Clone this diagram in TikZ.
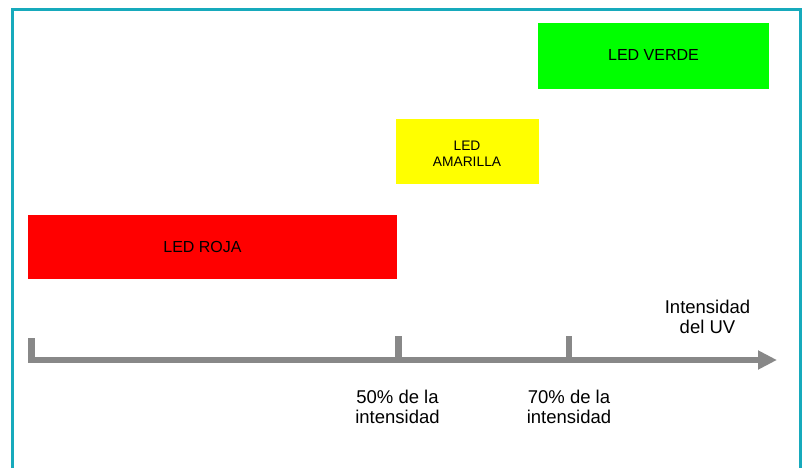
\documentclass[tikz,border=0pt]{standalone}
\usepackage{fontspec}
\setmainfont{Liberation Sans}
\usetikzlibrary{arrows.meta}
\definecolor{frameteal}{RGB}{23,170,188}
\definecolor{axisgray}{RGB}{136,136,136}
\begin{document}
\begin{tikzpicture}[x=1pt,y=-1pt,
  ledbox/.style={draw=none,inner sep=0pt,anchor=north west},
  boxtext/.style={inner sep=0pt,align=center,text=black},
  axtext/.style={inner sep=0pt,align=center,text=black,font=\fontsize{18.5}{20}\selectfont},
  axisline/.style={draw=axisgray,line width=6.5pt},
]
\useasboundingbox (0,0) rectangle (803,468);
\fill[white] (0,0) rectangle (803,468);
% frame (open at bottom)
\draw[frameteal,line width=3pt] (12,470) -- (12,10) -- (800,10) -- (800,470);

% LED boxes
\node[ledbox,fill={rgb,255:red,255;green,0;blue,0},minimum width=369pt,minimum height=64pt] (roja) at (28,215) {};
\node[boxtext,font=\fontsize{16}{19}\selectfont] (rojat) at (202.5,246.5) {LED ROJA};

\node[ledbox,fill={rgb,255:red,255;green,255;blue,0},minimum width=143pt,minimum height=65pt] (amar) at (396,119) {};
\node[boxtext,font=\fontsize{13.8}{16}\selectfont] (amart) at (467,153.5) {LED\\AMARILLA};

\node[ledbox,fill={rgb,255:red,0;green,255;blue,0},minimum width=231pt,minimum height=66pt] (verde) at (538,23) {};
\node[boxtext,font=\fontsize{16}{19}\selectfont] (verdet) at (653.5,55) {LED VERDE};

% axis
\coordinate (a0) at (31.5,338);
\coordinate (a1) at (31.5,360);
\coordinate (aend) at (777,360);
\coordinate (t50top) at (398.5,336);
\coordinate (t50) at (398.5,360);
\coordinate (t70top) at (569,336);
\coordinate (t70) at (569,360);
\draw[axisline,line join=miter,-{Triangle[length=19pt,width=18pt]}] (a0) -- (a1) -- (aend);
\draw[axisline] (t50top) -- (t50);
\draw[axisline] (t70top) -- (t70);

% labels
\node[axtext] (uv) at (707.5,316.5) {Intensidad\\del UV};
\node[axtext] (l50) at (397.5,407) {50\% de la\\intensidad};
\node[axtext] (l70) at (569,407) {70\% de la\\intensidad};
\end{tikzpicture}
\end{document}
